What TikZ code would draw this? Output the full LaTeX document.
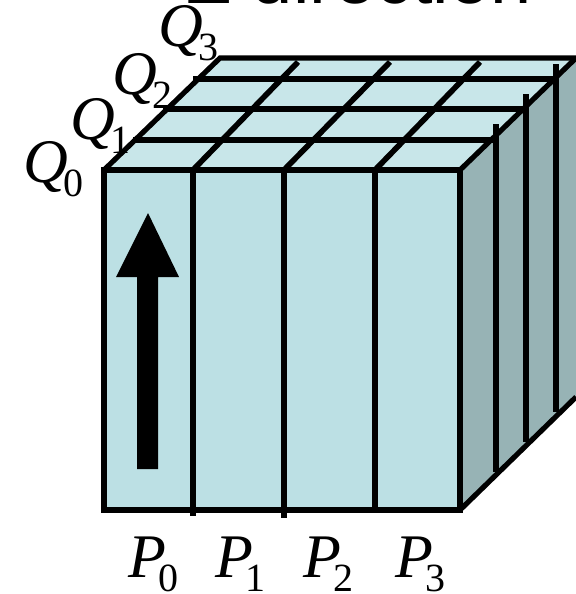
\documentclass[tikz,border=0pt]{standalone}
\usepackage{fontspec}
\setmainfont{Liberation Serif}
\newfontfamily\titlefont{Liberation Sans}
\usepackage{xcolor}
\usetikzlibrary{positioning}
\definecolor{frontcolor}{RGB}{188,224,228}
\definecolor{topcolor}{RGB}{200,230,233}
\definecolor{sidecolor}{RGB}{151,179,181}
\newcommand{\idxlabel}[3]{\textit{#1}\kern#3\raisebox{-11pt}{\fontsize{30}{30}\selectfont #2}}

\begin{document}
\begin{tikzpicture}[x=0.75pt,y=-0.75pt]
  \tikzset{edge/.style={draw,line width=3.9pt},
    gridline/.style={draw,line width=4.2pt},
    idx/.style={anchor=base west,inner sep=0pt,font=\fontsize{46.5}{46.5}\selectfont}}
  \useasboundingbox (0,0) rectangle (576,594);
  % ---------------- faces
  \fill[topcolor] (104,170) -- (220,58) -- (576,58) -- (460,170) -- cycle;
  \fill[sidecolor] (460,170) -- (576,58) -- (576,397) -- (460,510) -- cycle;
  \fill[frontcolor] (104,170) rectangle (460,510);
  % ---------------- grid on top and side
  \foreach \xa/\xb/\yb in {193/298/516,284/390/518,375/480/510} {
    \draw[gridline] (\xa,170) -- (\xb,62);
    \draw[gridline] (\xa,170) -- (\xa,\yb);
  }
  \foreach \xa/\xb/\yy in {133/496/140,163/526/109,193/555/79} {
    \draw[gridline] (\xa,\yy) -- (\xb,\yy);
  }
  \foreach \xx/\ya/\yb in {496/124/472,526/94/442,556/64/412} {
    \draw[gridline] (\xx,\ya) -- (\xx,\yb);
  }
  % ---------------- outline
  \draw[edge] (104,170) rectangle (460,510);
  \draw[edge] (104,170) -- (220,58) -- (576,58);
  \draw[edge] (460,170) -- (576,58);
  \draw[edge] (460,510) -- (576,397);
  % ---------------- arrow
  \fill (137,469) -- (137,277) -- (116,277) -- (148,213) -- (179,277) -- (158,277) -- (158,469) -- cycle;
  % ---------------- labels
  \node[anchor=base west,inner sep=0pt,font=\titlefont\fontsize{55.5}{55.5}\selectfont] (title) at (186,3) {Z direction};
  \foreach \k/\xx in {0/128,1/215,2/303,3/395} {
    \node[idx] (p\k) at (\xx,577) {\idxlabel{P}{\k}{-5.5pt}};
  }
  \foreach \k/\xx/\yy in {0/23/182,1/70/139,2/112/94,3/158/46} {
    \node[idx] (q\k) at (\xx,\yy) {\idxlabel{Q}{\k}{-3.5pt}};
  }
\end{tikzpicture}
\end{document}
